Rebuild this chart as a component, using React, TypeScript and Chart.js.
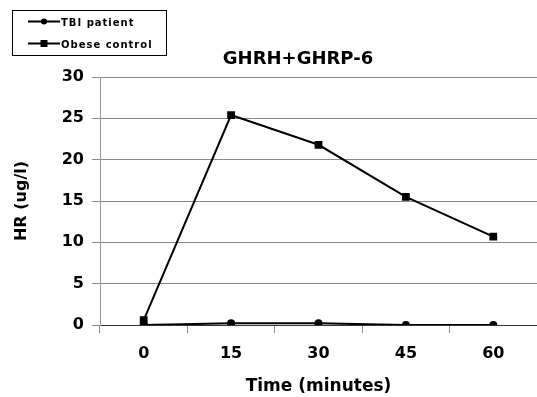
import React, { useEffect, useRef } from "react";
import { Chart, registerables } from "chart.js";

Chart.register(...registerables);

const TITLE = "GHRH+GHRP-6";
const X_TITLE = "Time (minutes)";
const Y_TITLE = "HR (ug/l)";
const categories = ["0", "15", "30", "45", "60"];
const tbiPatient = [0.0, 0.2, 0.2, 0.0, 0.0];
const obeseControl = [0.6, 25.4, 21.8, 15.5, 10.7];
const seriesLabels = ["TBI patient", "Obese control"];

const FONT = '"DejaVu Sans", sans-serif';

const overlay = {
  id: "overlay",
  afterDraw(chart: any) {
    const ctx = chart.ctx as CanvasRenderingContext2D;
    const ca = chart.chartArea;
    ctx.save();
    ctx.fillStyle = "#000";
    // chart title
    ctx.font = `bold 18px ${FONT}`;
    ctx.textAlign = "center";
    ctx.textBaseline = "alphabetic";
    ctx.fillText(TITLE, 298, 64);
    // x title
    ctx.font = `bold 17px ${FONT}`;
    ctx.fillText(X_TITLE, (ca.left + ca.right) / 2, 391);
    // y title
    ctx.save();
    ctx.translate(26, (ca.top + ca.bottom) / 2);
    ctx.rotate(-Math.PI / 2);
    ctx.font = `bold 16px ${FONT}`;
    ctx.fillText(Y_TITLE, 0, 0);
    ctx.restore();

    // legend box
    ctx.strokeStyle = "#000";
    ctx.lineWidth = 1;
    ctx.strokeRect(12.5, 10.5, 154, 45);
    chart.data.datasets.forEach((ds: any, i: number) => {
      const y = 21.5 + i * 22;
      ctx.beginPath();
      ctx.strokeStyle = "#000";
      ctx.lineWidth = 2;
      ctx.moveTo(28, y);
      ctx.lineTo(60, y);
      ctx.stroke();
      ctx.fillStyle = "#000";
      if (ds.pointStyle === "rect") {
        ctx.fillRect(40.5, y - 3.5, 7, 7);
      } else {
        ctx.beginPath();
        ctx.arc(44, y, 3, 0, Math.PI * 2);
        ctx.fill();
      }
      ctx.font = `bold 10px ${FONT}`;
      (ctx as any).letterSpacing = "1px";
      ctx.textAlign = "left";
      ctx.textBaseline = "alphabetic";
      ctx.fillText(ds.label, 61, y + 4);
      (ctx as any).letterSpacing = "0px";
    });
    ctx.restore();
  },
};

export default function App() {
  const ref = useRef<HTMLCanvasElement | null>(null);
  useEffect(() => {
    if (!ref.current) return;
    const chart = new Chart(ref.current, {
      type: "line",
      data: {
        labels: categories,
        datasets: [
          {
            label: seriesLabels[0],
            data: tbiPatient,
            borderColor: "#000",
            backgroundColor: "#000",
            borderWidth: 2,
            pointStyle: "circle",
            pointRadius: 4,
            pointBorderWidth: 0,
            tension: 0,
            order: 1,
          },
          {
            label: seriesLabels[1],
            data: obeseControl,
            borderColor: "#000",
            backgroundColor: "#000",
            borderWidth: 2,
            pointStyle: "rect",
            pointRadius: 5.5,
            pointBorderWidth: 0,
            tension: 0,
            order: 0,
          },
        ],
      },
      options: {
        animation: false,
        responsive: false,
        maintainAspectRatio: false,
        layout: { autoPadding: false, padding: { top: 77, left: 0, right: 0, bottom: 0 } },
        plugins: {
          legend: { display: false },
          title: { display: false },
          tooltip: { enabled: false },
        },
        scales: {
          x: {
            type: "category",
            offset: true,
            grid: {
              offset: true,
              drawOnChartArea: false,
              drawTicks: true,
              tickLength: 8,
              color: "#8a8a8a",
            },
            border: { display: true, color: "#333" },
            ticks: {
              color: "#000",
              font: { family: FONT, size: 16, weight: "bold" },
              padding: 11,
            },
            afterFit: (scale: any) => {
              scale.height = 72;
              scale.paddingLeft = 0;
              scale.paddingRight = 0;
            },
          },
          y: {
            min: 0,
            max: 30,
            grid: { color: "#8a8a8a", tickLength: 8, drawTicks: true },
            border: { display: true, color: "#999" },
            ticks: {
              stepSize: 5,
              color: "#000",
              font: { family: FONT, size: 16, weight: "bold" },
              padding: 8,
            },
            afterFit: (scale: any) => {
              scale.width = 100;
            },
          },
        },
      },
      plugins: [overlay],
    });
    return () => chart.destroy();
  }, []);
  return (
    <div style={{ position: "fixed", left: 0, top: 0, width: 537, height: 397, background: "#fff" }}>
      <canvas ref={ref} width={537} height={397} style={{ width: 537, height: 397 }} />
    </div>
  );
}
